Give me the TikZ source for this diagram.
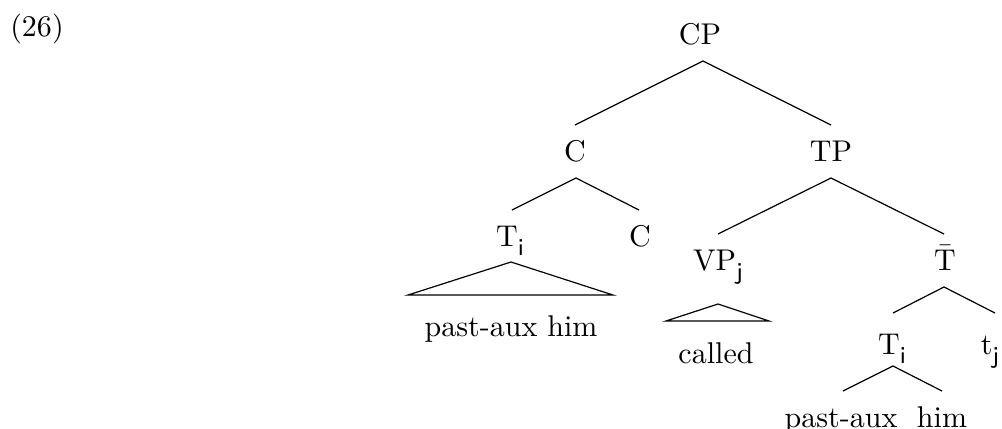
\documentclass[tikz,border=0pt]{standalone}
\usetikzlibrary{calc}
% subscript index, set small, sans-serif and lowered
\newcommand{\idx}[1]{\raisebox{-3pt}{\fontsize{8}{9}\selectfont\sffamily #1}}
\begin{document}
\begin{tikzpicture}[x=0.3333pt,y=-0.3333pt,
  lbl/.style={anchor=base,inner sep=0pt},
  branch/.style={line width=0.4pt},
  roof/.style={line width=0.4pt,line join=miter}]
\useasboundingbox (0,0) rectangle (1002,428);

% example number
\node[lbl] (ex) at (37,36) {(26)};

% labels of the tree
\node[lbl] (cp)     at (700,44)  {CP};
\node[lbl] (c)      at (575,161) {C};
\node[lbl] (tp)     at (831,161) {TP};
\node[lbl] (ti)     at (510,246) {T\idx{i}};
\node[lbl] (c2)     at (640,246) {C};
\node[lbl] (vp)     at (718,270) {VP\idx{j}};
\node[lbl] (tbar)   at (945,270) {$\bar{\mathrm{T}}$};
\node[lbl] (pah)    at (511,336) {past-aux him};
\node[lbl] (called) at (716,363) {called};
\node[lbl] (ti2)    at (892,354) {T\idx{i}};
\node[lbl] (tj)     at (990,354) {t\idx{j}};
\node[lbl] (pa)     at (841,427) {past-aux};
\node[lbl] (him)    at (942,427) {him};

% CP
\draw[branch] ($(c.base)+(0,-36)$) -- ($(cp.base)+(3,17)$) -- ($(tp.base)+(0,-36)$);
% C
\draw[branch] ($(ti.base)+(2,-36)$) -- ($(c.base)+(1,17)$) -- ($(c2.base)+(-1,-36)$);
% TP
\draw[branch] ($(vp.base)+(0,-36)$) -- ($(tp.base)+(0,17)$) -- ($(tbar.base)+(-1,-36)$);
% T-bar
\draw[branch] ($(ti2.base)+(1,-41)$) -- ($(tbar.base)+(-1,17)$) -- ($(tj.base)+(5,-41)$);
% lower T
\draw[branch] ($(pa.base)+(2,-36)$) -- ($(ti2.base)+(1,12)$) -- ($(him.base)+(0,-36)$);

% roofs over unanalysed material
\draw[roof] ($(ti.base)+(1,16)$) -- ($(pah.base)+(102,-41)$) -- ($(pah.base)+(-103,-41)$) -- cycle;
\draw[roof] ($(vp.base)+(0,34)$) -- ($(called.base)+(53,-42)$) -- ($(called.base)+(-50,-42)$) -- cycle;
\end{tikzpicture}
\end{document}
